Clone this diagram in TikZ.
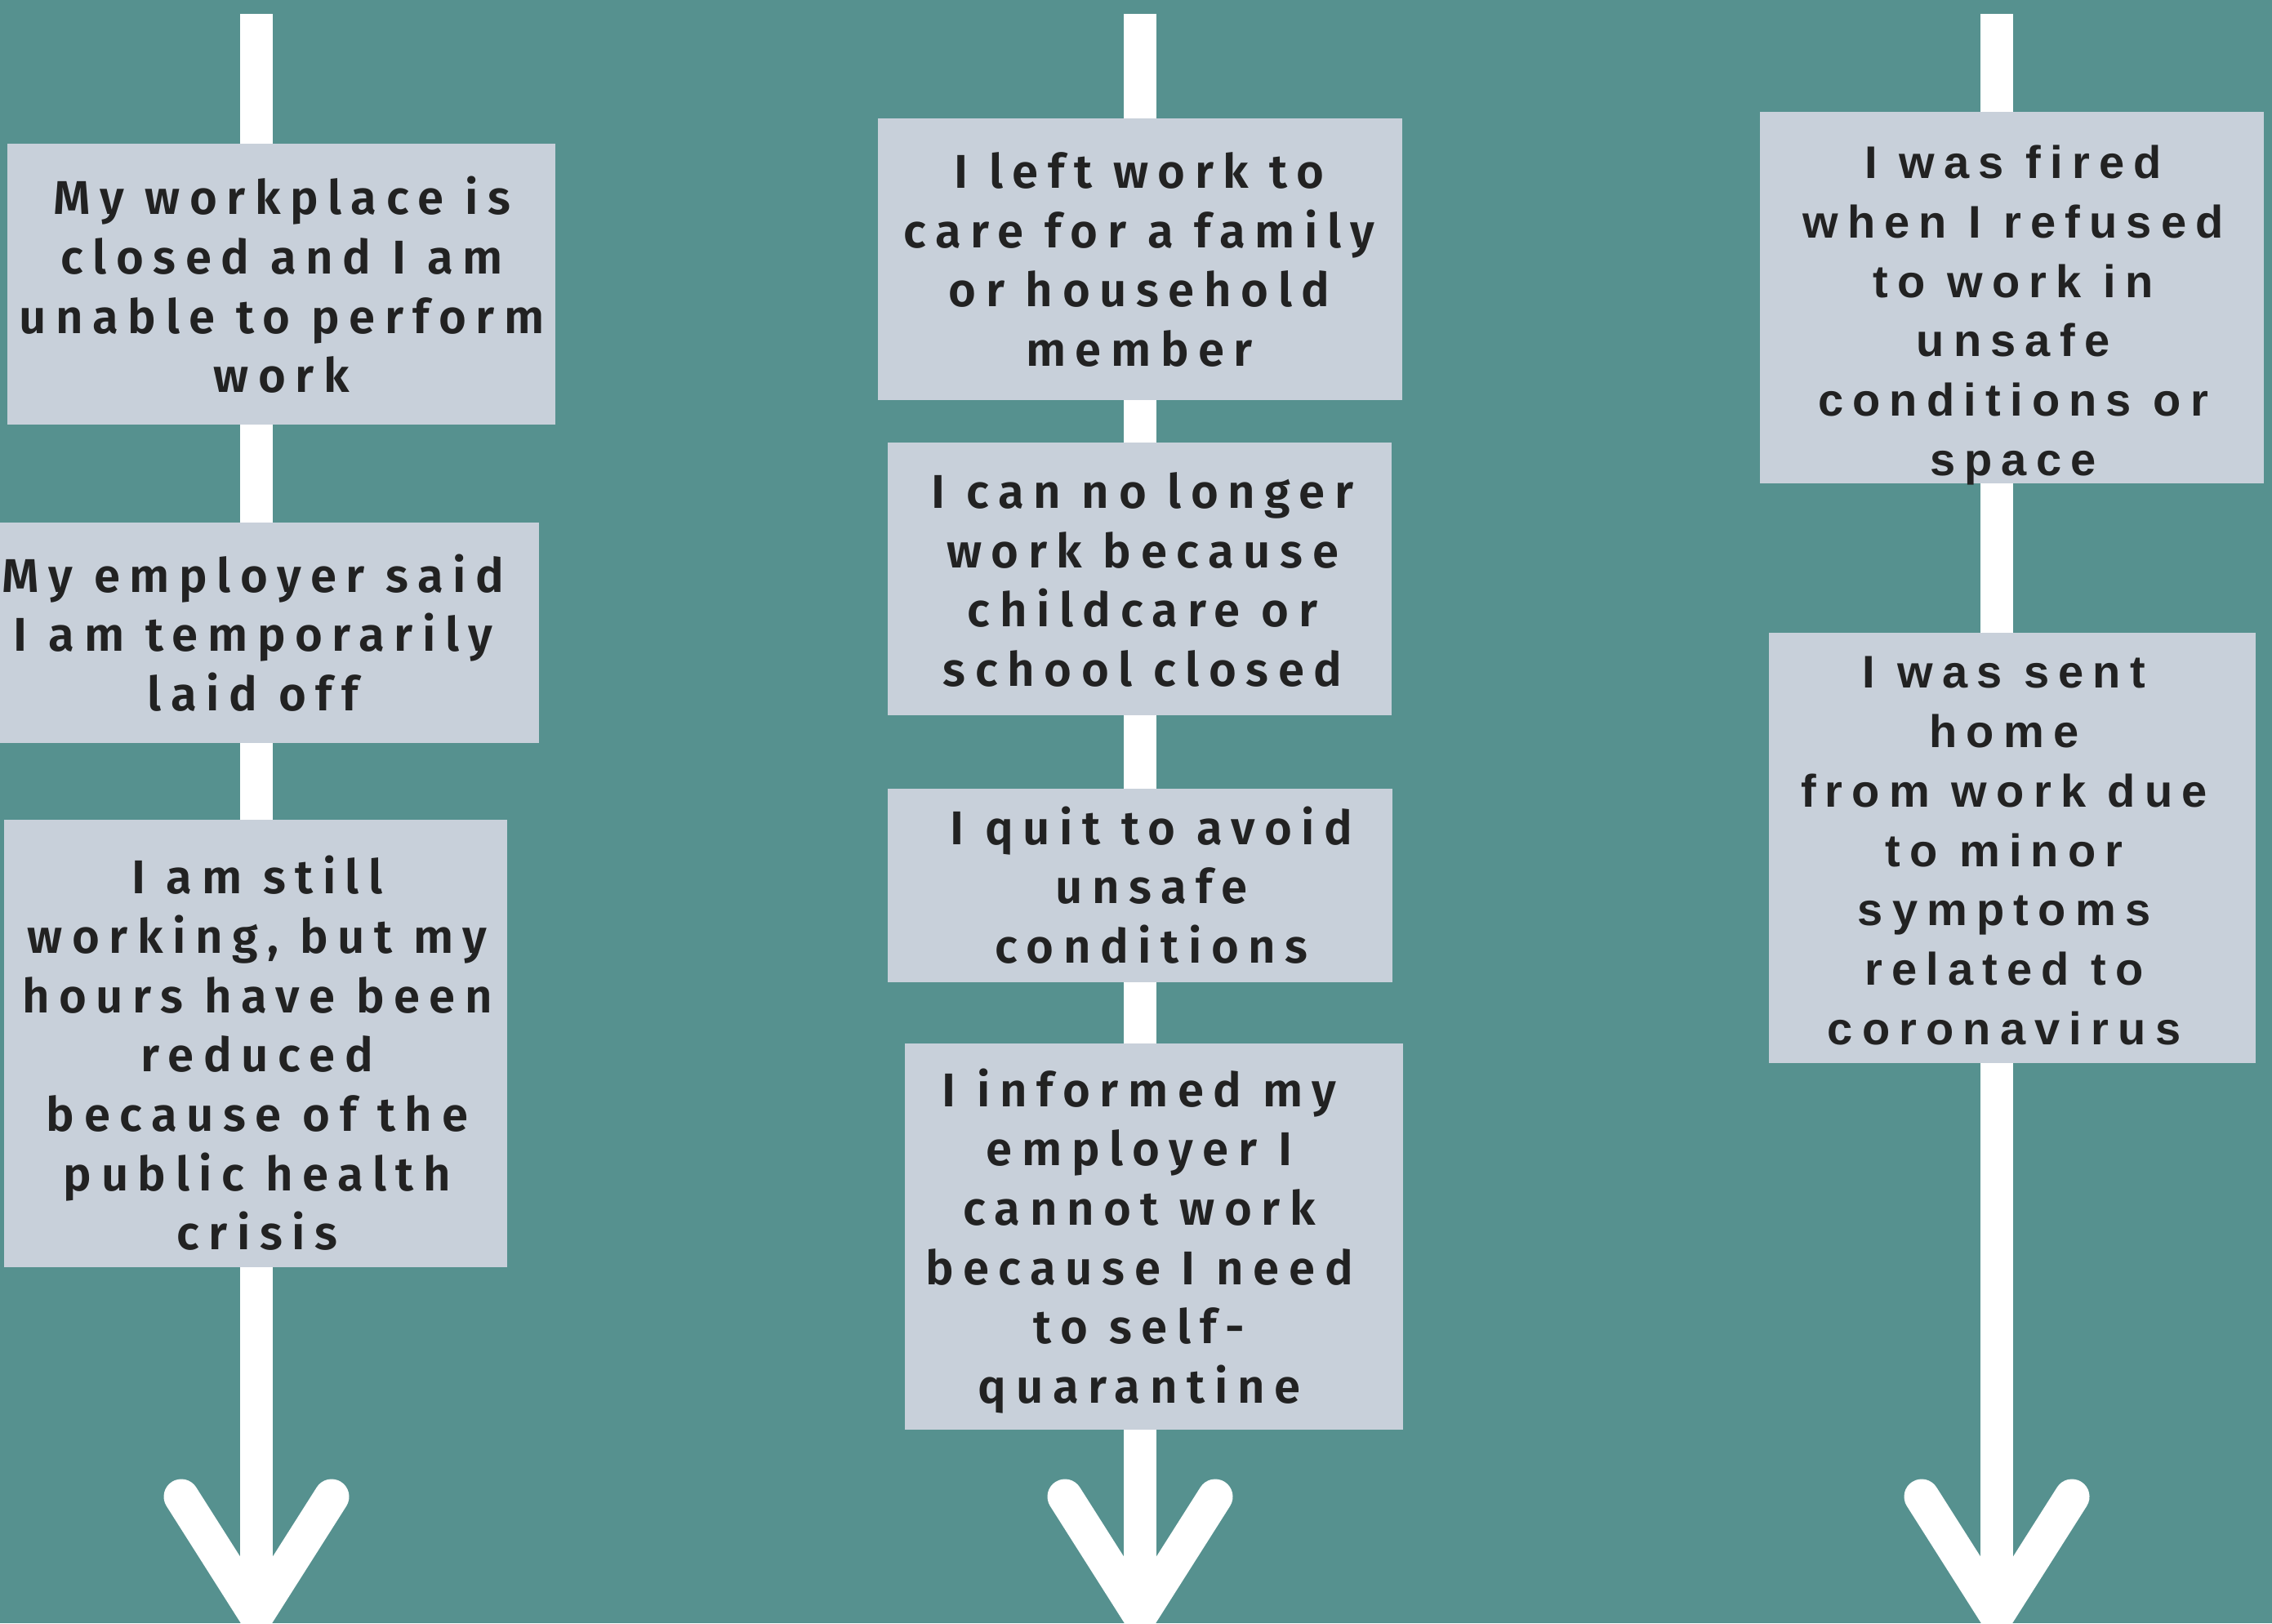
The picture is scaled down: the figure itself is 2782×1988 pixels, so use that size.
\documentclass[tikz,border=0pt]{standalone}
\usepackage{fontspec}
\usetikzlibrary{fit}
\newfontfamily\boxfont{Fira Sans SemiBold}[LetterSpace=20]
\newfontfamily\rightfont{Liberation Sans}[LetterSpace=20]
\definecolor{bgteal}{RGB}{86,145,143}
\definecolor{cardc}{RGB}{200,208,218}
\definecolor{ink}{RGB}{34,34,34}
\tikzset{
  shaft/.style={white, line width=20pt},
  arrowhd/.style={white, line width=21.5pt, line cap=round, line join=round},
  card/.style={fill=cardc, inner sep=0pt, draw=none},
  txt/.style={text=ink, align=center, inner sep=0pt, font=\boxfont\fontsize{29}{36.35}\selectfont},
  txtr/.style={text=ink, align=center, inner sep=0pt, font=\rightfont\bfseries\fontsize{28}{36.35}\selectfont}
}
\begin{document}
\begin{tikzpicture}[x=0.5pt,y=-0.5pt]
\useasboundingbox (0,0) rectangle (2782,1988);
\fill[bgteal] (0,0) rectangle (2782,1988);

% arrows
\coordinate (Ltop) at (314,17);  \coordinate (Ltip) at (314,1978);
\coordinate (Lal) at (222,1833); \coordinate (Lar) at (406,1833);
\coordinate (Mtop) at (1396,17); \coordinate (Mtip) at (1396,1978);
\coordinate (Mal) at (1304,1833); \coordinate (Mar) at (1488,1833);
\coordinate (Rtop) at (2445,17); \coordinate (Rtip) at (2445,1978);
\coordinate (Ral) at (2353,1833); \coordinate (Rar) at (2537,1833);
\draw[shaft] (Ltop) -- (Ltip);
\draw[shaft] (Mtop) -- (Mtip);
\draw[shaft] (Rtop) -- (Rtip);
\draw[arrowhd] (Lal) -- (Ltip) -- (Lar);
\draw[arrowhd] (Mal) -- (Mtip) -- (Mar);
\draw[arrowhd] (Ral) -- (Rtip) -- (Rar);

% left column
\node[card, fit={(9,176) (680,520)}] (L1) {};
\node[txt] (L1t) at (345,349) {My workplace is\\closed and I am\\unable to perform\\work};
\node[card, fit={(0,640) (660,910)}] (L2) {};
\node[txt] (L2t) at (310,775) {My employer said\\I am temporarily\\laid off};
\node[card, fit={(5,1004) (621,1552)}] (L3) {};
\node[txt] (L3t) at (315,1290) {I am still\\working, but my\\hours have been\\reduced\\because of the\\public health\\crisis};

% middle column
\node[card, fit={(1075,145) (1717,490)}] (M1) {};
\node[txt] (M1t) at (1395,318) {I left work to\\care for a family\\or household\\member};
\node[card, fit={(1087,542) (1704,876)}] (M2) {};
\node[txt] (M2t) at (1399,710) {I can no longer\\work because\\childcare or\\school closed};
\node[card, fit={(1087,966) (1705,1203)}] (M3) {};
\node[txt] (M3t) at (1410,1084) {I quit to avoid\\unsafe\\conditions};
\node[card, fit={(1108,1278) (1718,1751)}] (M4) {};
\node[txt] (M4t) at (1395,1520) {I informed my\\employer I\\cannot work\\because I need\\to self-\\quarantine};

% right column
\node[card, fit={(2155,137) (2772,592)}] (R1) {};
\node[txtr] (R1t) at (2465,386) {I was fired\\when I refused\\to work in\\unsafe\\conditions or\\space};
\node[card, fit={(2166,775) (2762,1302)}] (R2) {};
\node[txtr] (R2t) at (2454,1042) {I was sent\\home\\from work due\\to minor\\symptoms\\related to\\coronavirus};
\end{tikzpicture}
\end{document}
